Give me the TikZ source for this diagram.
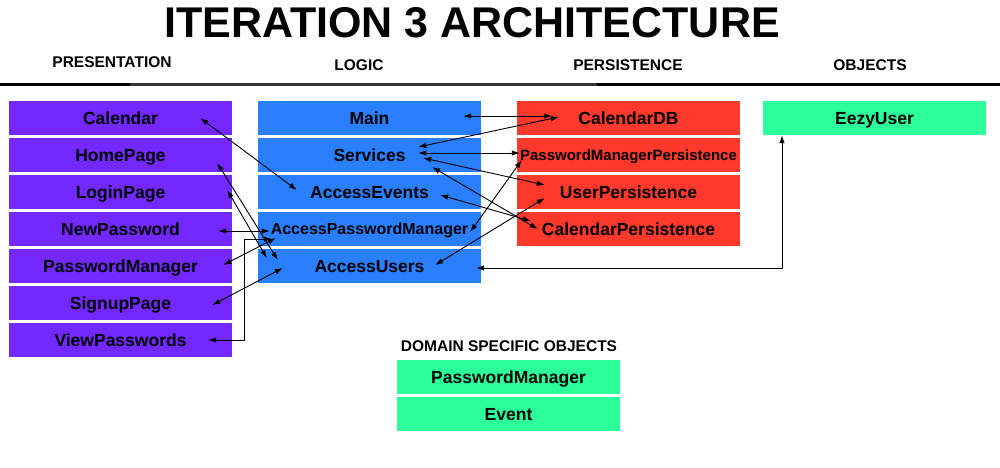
\documentclass[tikz,border=0pt]{standalone}
\usepackage{fontspec}
\setmainfont{Liberation Sans}
\usetikzlibrary{arrows.meta}

\definecolor{prescol}{RGB}{115,40,255}
\definecolor{logiccol}{RGB}{42,127,255}
\definecolor{perscol}{RGB}{255,57,43}
\definecolor{objcol}{RGB}{42,255,153}

\begin{document}
\begin{tikzpicture}[x=1pt,y=-1pt,
	box/.style={rectangle,minimum width=223pt,minimum height=34pt,inner sep=0pt,text height=12.5pt,text depth=0pt,font=\fontsize{17.5}{20}\selectfont\bfseries},
	pres/.style={box,fill=prescol},
	logic/.style={box,fill=logiccol},
	pers/.style={box,fill=perscol},
	obj/.style={box,fill=objcol},
	head/.style={font=\fontsize{15.5}{18}\selectfont\bfseries},
	link/.style={arrows={Latex[length=8pt,width=5.5pt]-Latex[length=8pt,width=5.5pt]},line width=0.9pt}]
			\useasboundingbox (0,0) rectangle (1000,467);
			
			% title and column heads
			\node[font=\fontsize{43}{50}\selectfont\bfseries] (title) at (472,23) {ITERATION 3 ARCHITECTURE};
			\node[head] (hpres) at (112,62) {PRESENTATION};
			\node[head] (hlogic) at (359,65) {LOGIC};
			\node[head] (hpers) at (628,65) {PERSISTENCE};
			\node[head] (hobj) at (870,65) {OBJECTS};
			\draw[line width=3pt] (0,84.5) -- (1000,84.5);
			\draw[line width=3pt,black!80] (130,84.5) -- (597,84.5);
			
			% presentation
			\node[pres] (cal) at (120.5,118) {Calendar};
			\node[pres] (home) at (120.5,155) {HomePage};
			\node[pres] (login) at (120.5,192) {LoginPage};
			\node[pres] (newpw) at (120.5,229) {NewPassword};
			\node[pres] (pwman) at (120.5,266) {PasswordManager};
			\node[pres] (signup) at (120.5,303) {SignupPage};
			\node[pres] (viewpw) at (120.5,340) {ViewPasswords};
			
			% logic
			\node[logic] (main) at (369.5,118) {Main};
			\node[logic] (serv) at (369.5,155) {Services};
			\node[logic] (accev) at (369.5,192) {AccessEvents};
			\node[logic,font=\fontsize{16}{18}\selectfont\bfseries,text height=11.5pt] (accpw) at (369.5,229) {AccessPasswordManager};
			\node[logic] (accus) at (369.5,266) {AccessUsers};
			
			% persistence
			\node[pers] (caldb) at (628.5,118) {CalendarDB};
			\node[pers,font=\fontsize{15}{17}\selectfont\bfseries,text height=10.7pt] (pwpers) at (628.5,155) {PasswordManagerPersistence};
			\node[pers] (userpers) at (628.5,192) {UserPersistence};
			\node[pers] (calpers) at (628.5,229) {CalendarPersistence};
			
			% objects
			\node[obj] (eezy) at (874.5,118) {EezyUser};
			\node[head] (hdso) at (509,346) {DOMAIN SPECIFIC OBJECTS};
			\node[obj] (pwobj) at (508.5,377) {PasswordManager};
			\node[obj] (event) at (508.5,414) {Event};
			
			% presentation <-> logic
			\draw[link] ([xshift=-32pt]cal.east) -- ([xshift=39pt,yshift=2pt]accev.west);
			\draw[link] ([xshift=-15pt,yshift=-8pt]home.east) -- ([xshift=20pt,yshift=6pt]accus.west);
			\draw[link] ([xshift=-5pt,yshift=2pt]login.east) -- ([xshift=9pt,yshift=8pt]accus.west);
			\draw[link] ([xshift=-14pt,yshift=-2pt]newpw.east) -- ([xshift=12pt,yshift=-2pt]accpw.west);
			\draw[link] ([xshift=-9pt,yshift=1pt]pwman.east) -- ([xshift=18pt,yshift=-9pt]accpw.west);
			\draw[link] ([xshift=-20pt,yshift=-2pt]signup.east) -- ([xshift=25pt,yshift=-2pt]accus.west);
			\draw[link] ([xshift=-24pt]viewpw.east) -- ([xshift=12pt]viewpw.east) |- ([xshift=14pt,yshift=-10pt]accpw.west);
			
			% logic <-> persistence
			\draw[link] ([xshift=-18pt,yshift=2pt]main.east) -- ([xshift=35pt,yshift=2pt]caldb.west);
			\draw[link] ([xshift=-63pt,yshift=8pt]serv.east) -- ([xshift=42pt,yshift=1pt]caldb.west);
			\draw[link] ([xshift=-63pt,yshift=2pt]serv.east) -- ([xshift=3pt,yshift=2pt]pwpers.west);
			\draw[link] ([xshift=-58pt,yshift=-3pt]serv.east) -- ([xshift=28pt,yshift=7pt]userpers.west);
			\draw[link] ([xshift=-49pt,yshift=-12pt]serv.east) -- ([xshift=21pt]calpers.west);
			\draw[link] ([xshift=-41pt,yshift=-3pt]accev.east) -- ([xshift=14pt,yshift=8pt]calpers.west);
			\draw[link] ([xshift=-11pt,yshift=-3pt]accpw.east) -- ([xshift=5pt,yshift=-5pt]pwpers.west);
			\draw[link] ([xshift=-46pt,yshift=1pt]accus.east) -- ([xshift=28pt,yshift=-6pt]userpers.west);
			
			% logic <-> objects
			\draw[link] ([xshift=-5pt,yshift=-2pt]accus.east) -| ([xshift=-92.5pt]eezy.south);
		\end{tikzpicture}
\end{document}
